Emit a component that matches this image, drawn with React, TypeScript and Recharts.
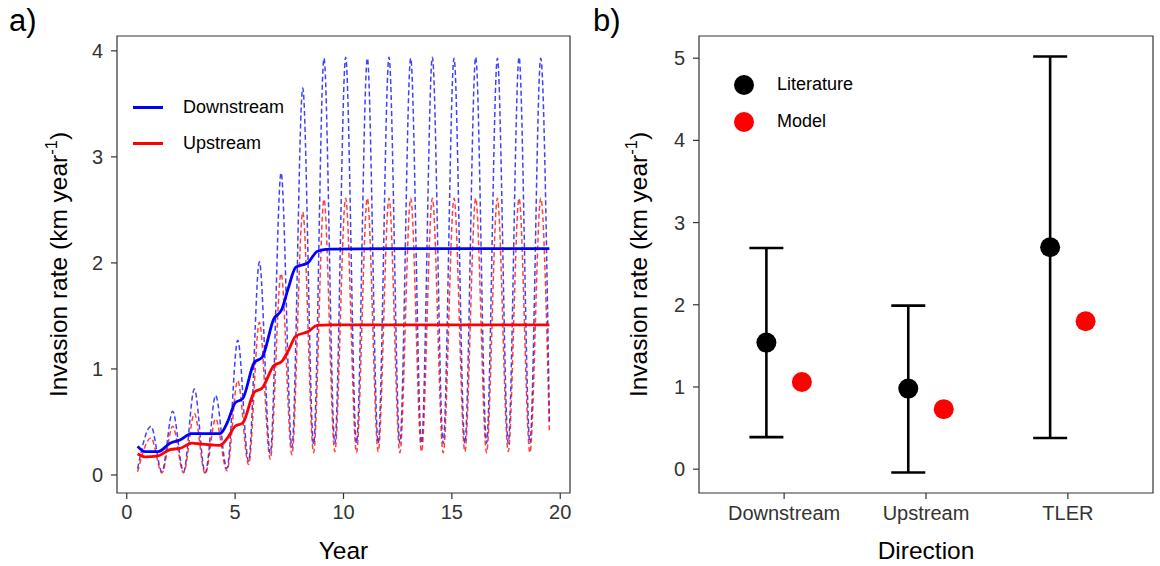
import React from 'react';
import {
  LineChart, Line, XAxis, YAxis, ReferenceArea, Legend, Label,
  ScatterChart, Scatter, ErrorBar,
} from 'recharts';

const FONT = '"Liberation Sans", Arial, Helvetica, sans-serif';
const INK = '#333333';

// ---- a) invasion rate through time ----
// seasonal curves: start, then peak / trough of every year, then end
const seasonYears = [
  0.5,
  1.12, 1.62, 2.12, 2.62, 3.12, 3.62, 4.1, 4.62, 5.12, 5.62,
  6.12, 6.62, 7.12, 7.62, 8.12, 8.62, 9.1, 9.6, 10.1, 10.6,
  11.1, 11.6, 12.1, 12.6, 13.1, 13.6, 14.1, 14.6, 15.1, 15.6,
  16.1, 16.6, 17.1, 17.6, 18.1, 18.6, 19.1, 19.5,
];
const downstreamSeason = [
  0.06,
  0.46, 0.03, 0.6, 0.03, 0.81, 0.02, 0.75, 0.06, 1.27, 0.13,
  2.01, 0.2, 2.85, 0.26, 3.65, 0.29, 3.93, 0.3, 3.94, 0.3,
  3.93, 0.3, 3.94, 0.3, 3.93, 0.3, 3.94, 0.3, 3.93, 0.3,
  3.94, 0.3, 3.93, 0.3, 3.94, 0.3, 3.93, 0.48,
];
const upstreamSeason = [
  0.03,
  0.35, 0.02, 0.46, 0.02, 0.58, 0.01, 0.53, 0.04, 0.89, 0.1,
  1.44, 0.15, 1.9, 0.19, 2.48, 0.21, 2.6, 0.22, 2.61, 0.21,
  2.61, 0.22, 2.61, 0.21, 2.61, 0.22, 2.61, 0.21, 2.61, 0.22,
  2.61, 0.21, 2.61, 0.22, 2.61, 0.21, 2.61, 0.4,
];

// yearly running means
const trendYears = [
  0.5, 0.85, 1.45, 2.0, 2.45, 3.0, 3.5, 4.3, 4.65, 5.0, 5.35, 5.88,
  6.25, 6.78, 7.15, 7.45, 7.8, 8.35, 8.8, 9.4, 12, 16, 19.5,
];
const downstreamTrend = [
  0.27, 0.22, 0.22, 0.3, 0.33, 0.39, 0.39, 0.39, 0.5, 0.68, 0.72, 1.06,
  1.11, 1.47, 1.56, 1.76, 1.96, 2.0, 2.11, 2.13, 2.135, 2.135, 2.135,
];
const upstreamTrend = [
  0.2, 0.17, 0.18, 0.24, 0.25, 0.3, 0.29, 0.28, 0.35, 0.46, 0.49, 0.78,
  0.82, 1.03, 1.07, 1.17, 1.31, 1.35, 1.41, 1.415, 1.415, 1.415, 1.415,
];

const yearTicks = [0, 5, 10, 15, 20];
const rateTicksA = [0, 1, 2, 3, 4];

// ---- b) literature vs model ----
const directions = ['Downstream', 'Upstream', 'TLER'];
const literatureMean = [1.54, 0.98, 2.7];
const literatureLow = [0.39, -0.04, 0.38];
const literatureHigh = [2.69, 1.99, 5.02];
const modelRate = [1.06, 0.73, 1.8];
const rateTicksB = [0, 1, 2, 3, 4, 5];

const DODGE = 0.125;

const zip = (xs: number[], ys: number[]) => xs.map((x, i) => ({ x, y: ys[i] }));

const lineSeries = [
  { name: 'Downstream', color: '#0000ff' },
  { name: 'Upstream', color: '#ff0000' },
];
const pointSeries = [
  { name: 'Literature', color: '#000000' },
  { name: 'Model', color: '#ff0000' },
];

const literature = directions.map((d, i) => ({
  pos: i + 1 - DODGE,
  rate: literatureMean[i],
  err: [literatureMean[i] - literatureLow[i], literatureHigh[i] - literatureMean[i]],
}));
const model = directions.map((d, i) => ({ pos: i + 1 + DODGE, rate: modelRate[i] }));

const tickStyle = { fill: INK, fontSize: 20, fontFamily: FONT };
const titleStyle = { fontSize: 24.5, fontFamily: FONT, fill: '#000' };

const RateTitle = ({ viewBox }: any) => {
  const cx = 67;
  const cy = viewBox.y + viewBox.height / 2;
  return (
    <text
      x={cx}
      y={cy}
      transform={`rotate(-90, ${cx}, ${cy})`}
      textAnchor="middle"
      fontFamily={FONT}
      fontSize={24.5}
      fill="#000"
    >
      Invasion rate (km year
      <tspan dy={-10} fontSize={16.5}>-1</tspan>
      <tspan dy={10}>)</tspan>
    </text>
  );
};

const LineKey = () => (
  <div style={{ fontFamily: FONT, fontSize: 18, color: '#000' }}>
    {lineSeries.map((s) => (
      <div key={s.name} style={{ display: 'flex', alignItems: 'center', height: 36 }}>
        <span style={{ width: 30, height: 3, background: s.color, marginRight: 20 }} />
        <span>{s.name}</span>
      </div>
    ))}
  </div>
);

const PointKey = () => (
  <div style={{ fontFamily: FONT, fontSize: 18, color: '#000' }}>
    {pointSeries.map((s) => (
      <div key={s.name} style={{ display: 'flex', alignItems: 'center', height: 37 }}>
        <span style={{ width: 20, height: 20, borderRadius: 10, background: s.color, marginRight: 23 }} />
        <span>{s.name}</span>
      </div>
    ))}
  </div>
);

const Dot = (props: any) => <circle cx={props.cx} cy={props.cy} r={10} fill={props.fill} />;

const PanelA = () => {
  const xDom: [number, number] = [-0.45, 20.45];
  const yDom: [number, number] = [-0.17, 4.14];
  return (
    <LineChart width={580} height={566} margin={{ top: 36, right: 10, bottom: 0, left: 0 }}>
      <XAxis
        type="number" dataKey="x" domain={xDom} ticks={yearTicks} allowDataOverflow
        height={73} axisLine={false} tickSize={6} tickMargin={6}
        tickLine={{ stroke: INK, strokeWidth: 1.2 }} tick={tickStyle}
      >
        <Label value="Year" position="insideBottom" offset={7} style={titleStyle} />
      </XAxis>
      <YAxis
        type="number" dataKey="y" domain={yDom} ticks={rateTicksA} allowDataOverflow
        width={117} axisLine={false} tickSize={6} tickMargin={8}
        tickLine={{ stroke: INK, strokeWidth: 1.2 }} tick={tickStyle}
      >
        <Label content={RateTitle} />
      </YAxis>
      <ReferenceArea x1={xDom[0]} x2={xDom[1]} y1={yDom[0]} y2={yDom[1]}
        fill="none" stroke={INK} strokeWidth={1.2} />
      <Line data={zip(seasonYears, downstreamSeason)} dataKey="y" type="monotone"
        stroke="#0000ff" strokeOpacity={0.75} strokeWidth={1.5} strokeDasharray="5 3"
        dot={false} isAnimationActive={false} legendType="none" />
      <Line data={zip(seasonYears, upstreamSeason)} dataKey="y" type="monotone"
        stroke="#ff0000" strokeOpacity={0.75} strokeWidth={1.5} strokeDasharray="5 3"
        dot={false} isAnimationActive={false} legendType="none" />
      <Line data={zip(trendYears, downstreamTrend)} dataKey="y" type="monotone"
        stroke="#0000ff" strokeWidth={2.8} dot={false} isAnimationActive={false} />
      <Line data={zip(trendYears, upstreamTrend)} dataKey="y" type="monotone"
        stroke="#ff0000" strokeWidth={2.8} dot={false} isAnimationActive={false} />
      <Legend layout="vertical" align="center" verticalAlign="middle"
        wrapperStyle={{ left: 133, top: 89, width: 'auto', height: 'auto' }}
        content={LineKey} />
    </LineChart>
  );
};

const PanelB = () => {
  const xDom: [number, number] = [0.4, 3.6];
  const yDom: [number, number] = [-0.29, 5.27];
  return (
    <ScatterChart width={580} height={566} margin={{ top: 36, right: 7, bottom: 0, left: 0 }}>
      <XAxis
        type="number" dataKey="pos" domain={xDom} ticks={[1, 2, 3]} allowDataOverflow
        tickFormatter={(v: number) => directions[v - 1]}
        height={73} axisLine={false} tickSize={6} tickMargin={7}
        tickLine={{ stroke: INK, strokeWidth: 1.2 }} tick={tickStyle}
      >
        <Label value="Direction" position="insideBottom" offset={7} style={titleStyle} />
      </XAxis>
      <YAxis
        type="number" dataKey="rate" domain={yDom} ticks={rateTicksB} allowDataOverflow
        width={119} axisLine={false} tickSize={6} tickMargin={8}
        tickLine={{ stroke: INK, strokeWidth: 1.2 }} tick={tickStyle}
      >
        <Label content={(p: any) => <RateTitle viewBox={{ ...p.viewBox, x: 0 }} />} />
      </YAxis>
      <ReferenceArea x1={xDom[0]} x2={xDom[1]} y1={yDom[0]} y2={yDom[1]}
        fill="none" stroke={INK} strokeWidth={1.2} />
      <Scatter name="Literature" data={literature} fill="#000000" shape={Dot} isAnimationActive={false}>
        <ErrorBar dataKey="err" direction="y" width={17} stroke="#000" strokeWidth={2.6} />
      </Scatter>
      <Scatter name="Model" data={model} fill="#ff0000" shape={Dot} isAnimationActive={false} />
      <Legend layout="vertical" align="center" verticalAlign="middle"
        wrapperStyle={{ left: 154, top: 66, width: 'auto', height: 'auto' }}
        content={PointKey} />
    </ScatterChart>
  );
};

export default function App() {
  return (
    <div style={{ position: 'absolute', left: 0, top: 0, width: 1160, height: 566, background: '#fff' }}>
      <div style={{ position: 'absolute', left: 0, top: 0 }}><PanelA /></div>
      <div style={{ position: 'absolute', left: 580, top: 0 }}><PanelB /></div>
      <svg width={1160} height={566} style={{ position: 'absolute', left: 0, top: 0, pointerEvents: 'none' }}>
        <text x={9} y={31} fontFamily={FONT} fontSize={31} fill="#000">a)</text>
        <text x={593} y={31} fontFamily={FONT} fontSize={31} fill="#000">b)</text>
      </svg>
    </div>
  );
}
